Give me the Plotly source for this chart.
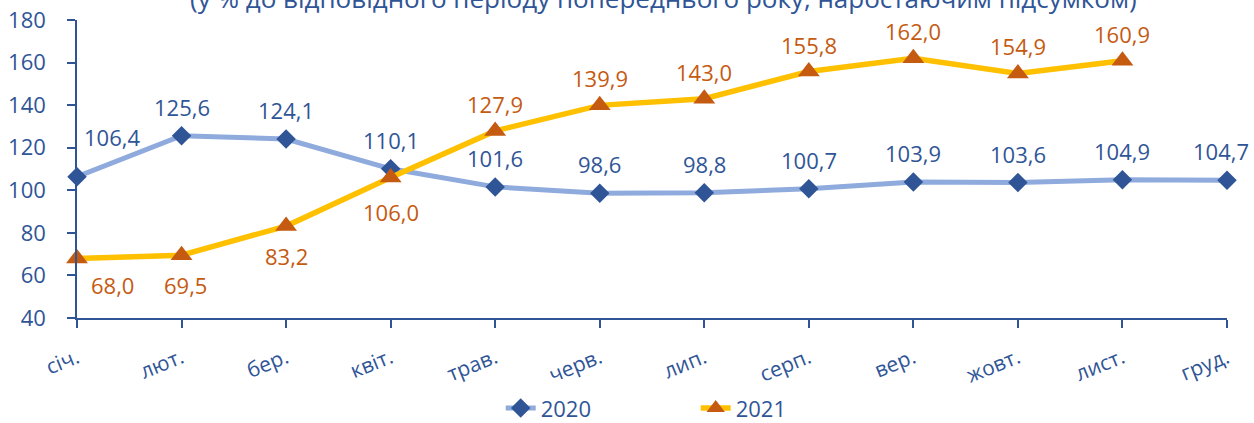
import plotly.graph_objects as go

months = ["січ.", "лют.", "бер.", "квіт.", "трав.", "черв.", "лип.", "серп.", "вер.", "жовт.", "лист.", "груд."]
values_2020 = [106.4, 125.6, 124.1, 110.1, 101.6, 98.6, 98.8, 100.7, 103.9, 103.6, 104.9, 104.7]
values_2021 = [68.0, 69.5, 83.2, 106.0, 127.9, 139.9, 143.0, 155.8, 162.0, 154.9, 160.9]
y_ticks = [40, 60, 80, 100, 120, 140, 160, 180]
title_text = "(у % до відповідного періоду попереднього року, наростаючим підсумком)"

BLUE_DARK = "#2F5597"
BLUE_LIGHT = "#8FAADC"
ORANGE = "#C55A11"
YELLOW = "#FFC000"
FONT = "Open Sans"

x_idx = list(range(len(months)))

fig = go.Figure()
fig.add_trace(go.Scatter(
    x=x_idx, y=values_2020, name="2020", mode="lines+markers",
    line=dict(color=BLUE_LIGHT, width=5),
    marker=dict(symbol="diamond", size=15, color=BLUE_DARK),
))
fig.add_trace(go.Scatter(
    x=x_idx[:len(values_2021)], y=values_2021, name="2021", mode="lines+markers",
    line=dict(color=YELLOW, width=5.5),
    marker=dict(symbol="triangle-up", size=19, color=ORANGE),
))

def fmt(v):
    return f"{v:.1f}".replace(".", ",")

annotations = []
# 2020 labels (above)
for i, v in enumerate(values_2020):
    xs, ys = 0, 29
    if i == 0:
        xs, ys = 35, 40
    elif i == len(values_2020) - 1:
        xs = -6
    annotations.append(dict(x=i, y=v, text=fmt(v), showarrow=False, xshift=xs, yshift=ys,
                            font=dict(color=BLUE_DARK, size=22, family=FONT)))
# 2021 labels
for i, v in enumerate(values_2021):
    xs, ys = 0, 27
    if i == 0:
        xs, ys = 35, -27
    elif i in (1, 2):
        xs, ys = (4 if i == 1 else 0), -30
    elif i == 3:
        ys = -34
    annotations.append(dict(x=i, y=v, text=fmt(v), showarrow=False, xshift=xs, yshift=ys,
                            font=dict(color=ORANGE, size=22, family=FONT)))

annotations.append(dict(xref="paper", yref="paper", x=0.51, y=1.008, yanchor="bottom",
                        text=title_text, showarrow=False,
                        font=dict(color=BLUE_DARK, size=26, family=FONT)))

fig.update_layout(
    width=1254, height=423,
    margin=dict(l=77, r=27, t=20, b=105, autoexpand=False),
    paper_bgcolor="white", plot_bgcolor="white",
    font=dict(family=FONT, color=BLUE_DARK, size=21),
    annotations=annotations,
    showlegend=True,
    legend=dict(orientation="h", x=0.538, xanchor="center", y=-0.303, yanchor="middle",
                font=dict(size=22, color=BLUE_DARK, family=FONT),
                entrywidth=150, entrywidthmode="pixels"),
    xaxis=dict(
        range=[0, 11], tickmode="array", tickvals=x_idx, ticktext=months, automargin=False,
        showgrid=False, zeroline=False, showline=True, linecolor=BLUE_DARK, linewidth=1.5,
        ticks="outside", ticklen=8, tickcolor=BLUE_DARK, tickwidth=1.5,
        tickangle=-22, tickfont=dict(size=21, color=BLUE_DARK, family=FONT),
        ticklabelstandoff=10,
    ),
    yaxis=dict(
        range=[40, 180], tickmode="array", tickvals=y_ticks, automargin=False,
        showgrid=False, zeroline=False, showline=True, linecolor=BLUE_DARK, linewidth=1.5,
        ticks="outside", ticklen=8, tickcolor=BLUE_DARK, tickwidth=1.5,
        tickfont=dict(size=22, color=BLUE_DARK, family=FONT),
        ticklabelstandoff=17,
    ),
)
for tr in fig.data:
    tr.cliponaxis = False

fig.write_html("out.html", config={"displayModeBar": False},
               post_script="document.body.style.margin='0';")
